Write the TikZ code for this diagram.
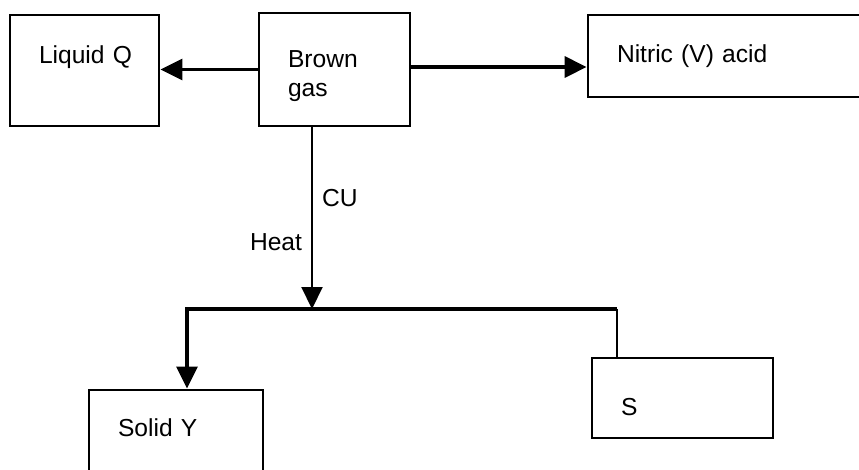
\documentclass[tikz,border=0pt]{standalone}
\usepackage{fontspec}
\setmainfont{Liberation Sans}
\usetikzlibrary{arrows.meta,positioning,calc}

\begin{document}
\begin{tikzpicture}[
    x=0.02cm, y=-0.02cm,
    box/.style={draw, line width=1.6pt, rectangle, align=left, inner xsep=0.58cm, inner ysep=2pt,
        font=\fontsize{14}{16}\selectfont},
    arr/.style={-{Triangle[length=0.44cm, width=0.42cm]}, line width=1.8pt},
    lbl/.style={font=\fontsize{14}{16}\selectfont, inner sep=0pt}
]
\useasboundingbox (0,0) rectangle (859,470);
\node[box, text width=1.82cm, minimum height=2.22cm, text depth=0.65cm] (liquid) at (84.5,70.5) {Liquid~Q};
\node[box, text width=1.86cm, minimum height=2.26cm, text height=0.6cm] (brown) at (334.5,69.5) {Brown\\gas};
\node[box, text width=4.64cm, minimum height=1.64cm] (nitric) at (733,56) {Nitric (V) acid};
\node[box, text width=2.32cm, minimum height=1.9cm, text depth=0.4cm] (solidy) at (176,437.5) {Solid Y};
\node[box, text width=2.46cm, minimum height=1.6cm, text height=0.72cm] (s) at (682.5,398) {S};
% branch point below the brown gas
\coordinate (junc) at (312,309);
\coordinate (jl) at (187,309);
\coordinate (jr) at (617,309);
\draw[arr] (brown.west) -- (liquid.east |- brown.west);
\draw[arr] (brown.east |- 0,67) -- (nitric.west |- 0,67);
\draw[arr, line width=1.2pt] (brown.south -| junc) -- (junc);
\draw[arr] (jr) -- (jl) -- (jl |- solidy.north);
\draw[line width=1.6pt] (jr) -- (jr |- s.north);
\node[lbl] (cu) at (340,198) {CU};
\node[lbl] (heat) at (276,242) {Heat};
\end{tikzpicture}
\end{document}
